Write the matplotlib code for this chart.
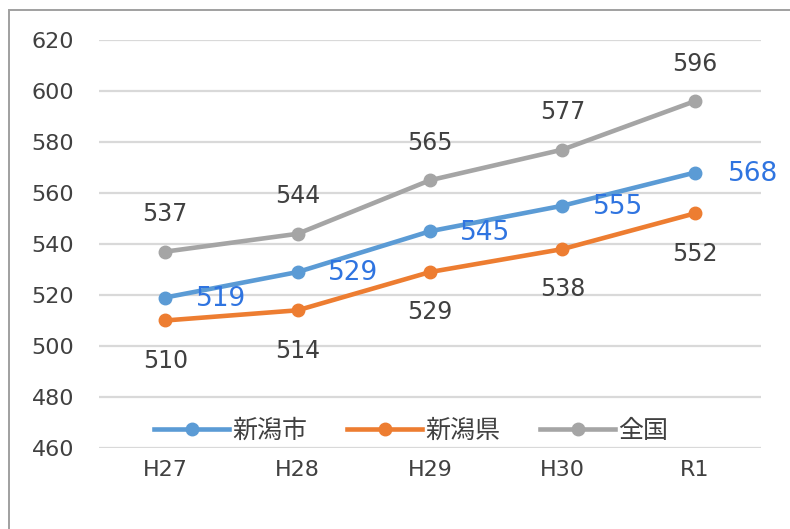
import matplotlib.pyplot as plt
from matplotlib.patches import Rectangle

plt.rcParams['font.family'] = ['DejaVu Sans', 'Noto Sans CJK JP']

years = ['H27', 'H28', 'H29', 'H30', 'R1']
niigata_city = [519, 529, 545, 555, 568]
niigata_pref = [510, 514, 529, 538, 552]
national = [537, 544, 565, 577, 596]
series_names = ['新潟市', '新潟県', '全国']

blue = '#5B9BD5'
orange = '#ED7D31'
gray = '#A5A5A5'
text_col = '#404040'

fig = plt.figure(figsize=(7.9, 5.29), dpi=100)
ax = fig.add_axes([99 / 790, 81 / 529, 662 / 790, 408 / 529])

x = list(range(len(years)))
ax.plot(x, niigata_city, color=blue, lw=3.3, marker='o', ms=9, label=series_names[0], zorder=3)
ax.plot(x, niigata_pref, color=orange, lw=3.3, marker='o', ms=9, label=series_names[1], zorder=3)
ax.plot(x, national, color=gray, lw=3.3, marker='o', ms=9, label=series_names[2], zorder=3)

# data labels: gray above, orange below, blue to the right
for i in x:
    ax.annotate(str(national[i]), (i, national[i]), xytext=(0, 27), textcoords='offset points',
                ha='center', va='center', fontsize=17, color=text_col)
    ax.annotate(str(niigata_pref[i]), (i, niigata_pref[i]), xytext=(0, -29), textcoords='offset points',
                ha='center', va='center', fontsize=17, color=text_col)
    dx = 40 if i < 4 else 42
    ax.annotate(str(niigata_city[i]), (i, niigata_city[i]), xytext=(dx, -1), textcoords='offset points',
                ha='center', va='center', fontsize=19, color='#2F74E0')

ax.set_xlim(-0.5, 4.5)
ax.set_ylim(460, 620)
ax.set_yticks(range(460, 621, 20))
ax.set_xticks(x)
ax.set_xticklabels(years)
ax.tick_params(axis='both', length=0, colors=text_col)
ax.tick_params(axis='y', pad=18, labelsize=16)
ax.tick_params(axis='x', pad=9, labelsize=16)
ax.grid(axis='y', color='#D9D9D9', lw=1.6)
ax.set_axisbelow(True)
for s in ax.spines.values():
    s.set_visible(False)

leg = fig.legend(loc='center', bbox_to_anchor=(411 / 790, 1 - 431 / 529), ncol=3, frameon=False,
                 fontsize=18, handlelength=3.0, handletextpad=0.12, columnspacing=1.6)
for t in leg.get_texts():
    t.set_color(text_col)

# outer border, cut off at right and bottom
fig.patches.append(Rectangle((9 / 790, -0.05), 1.0, 1 - 10 / 529 + 0.05, transform=fig.transFigure,
                             fill=False, ec='#A0A0A0', lw=1.4))

fig.savefig('out.png', dpi=100)
